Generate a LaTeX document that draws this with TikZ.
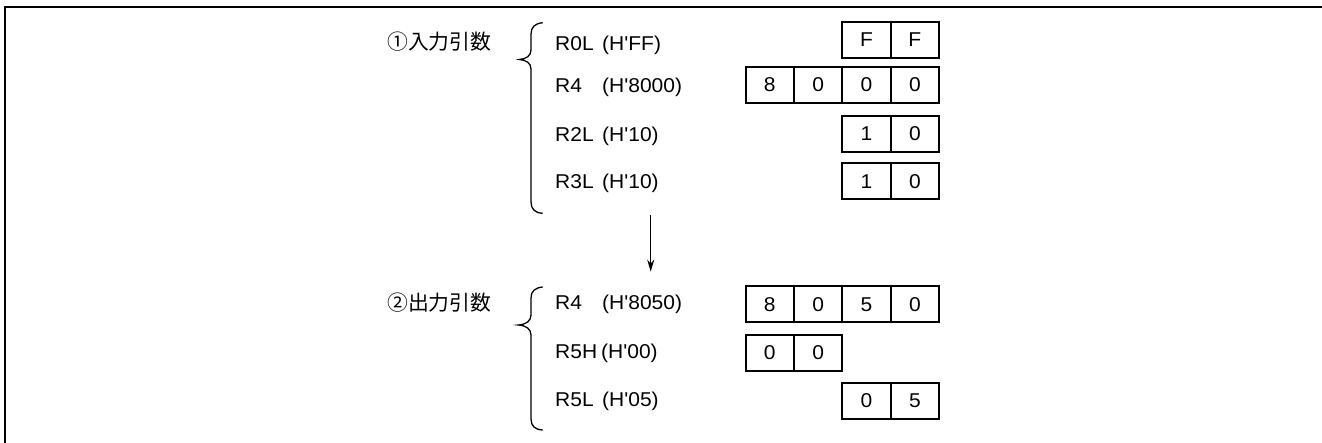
\documentclass[tikz,border=0pt]{standalone}
\usepackage{fontspec}
\setmainfont{Liberation Sans}
\newfontfamily\regfont{Liberation Sans}[FakeStretch=1.05]
\newfontfamily\jpfont{Noto Sans CJK JP}
\usetikzlibrary{arrows.meta}
\begin{document}
\begin{tikzpicture}[x=1pt,y=-1pt,
  cell/.style={draw,line width=2pt,minimum width=48.4pt,minimum height=36pt,inner sep=0pt,font=\regfont\fontsize{20}{24}\selectfont},
  reglabel/.style={anchor=base west,inner sep=0pt,font=\regfont\fontsize{20}{24}\selectfont},
  jplabel/.style={anchor=west,inner sep=0pt,font=\jpfont\fontsize{20.8}{24}\selectfont},
  brace/.style={line width=1.3pt},
  frameline/.style={line width=1.8pt}]
\useasboundingbox (0,0) rectangle (1322,443);
\draw[frameline] (1322,6.8) -- (4.8,6.8) -- (4.8,443);

% group labels
\node[jplabel] (inlbl) at (387,41.5) {①入力引数};
\node[jplabel] (outlbl) at (387,303) {②出力引数};

% braces
\draw[brace] (542.7,22.7) .. controls (535,23.5) and (531,27) .. (531,34) -- (531,50)
  .. controls (531,56) and (526,59) .. (519.3,59.5)
  .. controls (526,60) and (531,63) .. (531,69) -- (531,202)
  .. controls (531,209) and (535,213) .. (542.7,213.3);
\draw[brace] (542.7,287) .. controls (535,287.8) and (531,291) .. (531,298) -- (531,315)
  .. controls (531,321) and (526,324.5) .. (518.5,325)
  .. controls (526,325.5) and (531,329) .. (531,335) -- (531,419)
  .. controls (531,426) and (535,429.7) .. (542.7,430);

% input register labels
\node[reglabel] (n1) at (555,50.7) {R0L};
\node[reglabel] (v1) at (602,50.7) {(H'FF)};
\node[reglabel] (n2) at (555,92.7) {R4};
\node[reglabel] (v2) at (602,92.7) {(H'8000)};
\node[reglabel] (n3) at (555,141.7) {R2L};
\node[reglabel] (v3) at (602,141.7) {(H'10)};
\node[reglabel] (n4) at (555,188.3) {R3L};
\node[reglabel] (v4) at (602,188.3) {(H'10)};

% output register labels
\node[reglabel] (m1) at (555,310) {R4};
\node[reglabel] (w1) at (602,310) {(H'8050)};
\node[reglabel] (m2) at (555,358.3) {R5H};
\node[reglabel] (w2) at (601,358.3) {(H'00)};
\node[reglabel] (m3) at (555,406.7) {R5L};
\node[reglabel] (w3) at (602,406.7) {(H'05)};

% input cells
\node[cell] (a3) at (866.5,39.9) {F};
\node[cell] (a4) at (914.9,39.9) {F};
\node[cell] (b1) at (769.7,84.8) {8};
\node[cell] (b2) at (818.1,84.8) {0};
\node[cell] (b3) at (866.5,84.8) {0};
\node[cell] (b4) at (914.9,84.8) {0};
\node[cell] (c3) at (866.5,133.7) {1};
\node[cell] (c4) at (914.9,133.7) {0};
\node[cell] (d3) at (866.5,181.2) {1};
\node[cell] (d4) at (914.9,181.2) {0};

% output cells
\node[cell] (e1) at (769.7,304.3) {8};
\node[cell] (e2) at (818.1,304.3) {0};
\node[cell] (e3) at (866.5,304.3) {5};
\node[cell] (e4) at (914.9,304.3) {0};
\node[cell] (f1) at (769.7,352.6) {0};
\node[cell] (f2) at (818.1,352.6) {0};
\node[cell] (g3) at (866.5,400.8) {0};
\node[cell] (g4) at (914.9,400.8) {5};

% arrow
\coordinate (arrS) at (650.7,215);
\coordinate (arrE) at (650.7,271.7);
\draw[line width=1.3pt,-{Stealth[length=12pt,width=7pt]}] (arrS) -- (arrE);
\end{tikzpicture}
\end{document}
